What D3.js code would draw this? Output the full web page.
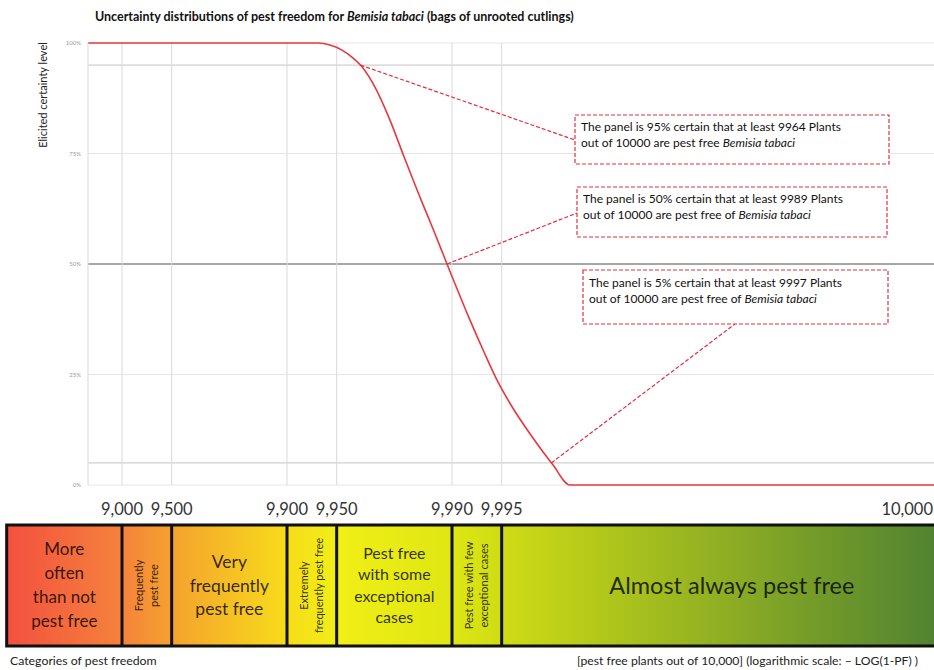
<!DOCTYPE html>
<html><head><meta charset="utf-8">
<script src="https://cdn.jsdelivr.net/npm/d3@7"></script>
<style>
body{margin:0;background:#fff}
svg{display:block}
text{font-family:Lato,"Open Sans",sans-serif}
</style>
</head><body>
<svg id="c" width="934" height="670"></svg>
<script>
// ---------------- data ----------------
const curvePlants    = [8400, 9890, 9935.1, 9945.1, 9953.6, 9959.6, 9964.9, 9970.7, 9976.2, 9980.5, 9984.6, 9987.05, 9989.28, 9992.22, 9993.6, 9994.59, 9995.61, 9996.73, 9997.56, 9998.07, 10000];
const curveCertainty = [100,  100,  100,    99.55,  98.4,   96.8,   94.6,   90.0,   82.6,   74.2,   64.5,   57.7,    50,      37.3,    30.1,   24.2,    18.1,    10.9,    4.5,     0,       0];
const yTicks = [0, 25, 50, 75, 100];
const yTickLabels = ["0%", "25%", "50%", "75%", "100%"];
const refLevels = [5, 50, 95];
const xTickPlants = [9000, 9500, 9900, 9950, 9990, 9995, 10000];
const xTickLabels = ["9,000", "9,500", "9,900", "9,950", "9,990", "9,995", "10,000"];
const categoryBounds = [5000, 9000, 9500, 9900, 9950, 9990, 9995, 10000];
const categoryLabels = [
  ["More", "often", "than not", "pest free"],
  ["Frequently", "pest free"],
  ["Very", "frequently", "pest free"],
  ["Extremely", "frequently pest free"],
  ["Pest free", "with some", "exceptional", "cases"],
  ["Pest free with few", "exceptional cases"],
  ["Almost always pest free"]
];
const annotationLevels = [95, 50, 5];
const annotationLine1 = [
  "The panel is 95% certain that at least 9964 Plants",
  "The panel is 50% certain that at least 9989 Plants",
  "The panel is 5% certain that at least 9997 Plants"
];
const annotationLine2 = [
  "out of 10000 are pest free ",
  "out of 10000 are pest free of ",
  "out of 10000 are pest free of "
];
const speciesName = "Bemisia tabaci";
const titleText = "Uncertainty distributions of pest freedom for ";
const titleTail = " (bags of unrooted cutlings)";
const yTitle = "Elicited certainty level";
const bottomLeft = "Categories of pest freedom";
const bottomRight = "[pest free plants out of 10,000] (logarithmic scale: \u2013 LOG(1-PF) )";

// ---------------- layout / style ----------------
const plotLeft = 88, plotRight = 934, plotTop = 43, plotBottom = 485;
const barTop = 525, barBottom = 646, barRight = 962;
const catStyle = [
  {size:17, lh:24, rot:false},
  {size:11, lh:15.5, rot:true},
  {size:17.5, lh:23.5, rot:false},
  {size:11, lh:15.5, rot:true},
  {size:16, lh:21.5, rot:false},
  {size:11, lh:15.5, rot:true},
  {size:23.5, lh:24, rot:false}
];
const annBoxes = [
  {x:575, y:115, w:314, h:49, tx:581, ty:131, endX:575, endY:140},
  {x:577, y:187, w:310, h:50, tx:583, ty:203, endX:577, endY:213},
  {x:583, y:270, w:305, h:54, tx:589, ty:287, endX:735, endY:324}
];
const red = "#e8383f", annRed = "#e0303e";

const svg = d3.select("#c");
svg.append("rect").attr("width",934).attr("height",670).attr("fill","#fff");

const lp = n => -Math.log10(1 - n/10000);
const xs = d3.scaleLinear().domain([lp(9000), lp(9990)]).range([122, 452]);
const X = n => n >= 10000 ? plotRight : xs(lp(n));
const y = d3.scaleLinear().domain([0, 100]).range([plotBottom, plotTop]);

// gridlines
const g = svg.append("g");
g.selectAll(".hg").data(yTicks).join("line")
  .attr("x1", plotLeft).attr("x2", plotRight)
  .attr("y1", d => y(d)).attr("y2", d => y(d))
  .attr("stroke", d => d === 50 ? "#8a8a8a" : "#e6e6e6")
  .attr("stroke-width", d => d === 50 ? 1.4 : 1);
g.selectAll(".rl").data(refLevels.filter(d => d !== 50)).join("line")
  .attr("x1", plotLeft).attr("x2", plotRight)
  .attr("y1", d => y(d)).attr("y2", d => y(d))
  .attr("stroke", "#c4c4c4").attr("stroke-width", 1);
g.selectAll(".vg").data(xTickPlants.filter(d => d < 10000)).join("line")
  .attr("x1", d => X(d)).attr("x2", d => X(d))
  .attr("y1", plotTop).attr("y2", plotBottom)
  .attr("stroke", "#d9d9d9").attr("stroke-width", 1);
g.append("line").attr("x1", plotLeft).attr("x2", plotLeft)
  .attr("y1", plotTop).attr("y2", plotBottom).attr("stroke", "#d9d9d9");

// y tick labels
svg.selectAll(".yt").data(yTicks).join("text")
  .attr("x", plotLeft - 7).attr("y", d => y(d)).attr("dy", "0.35em")
  .attr("text-anchor", "end").attr("font-size", 6).attr("fill", "#9a9a9a")
  .text((d, i) => yTickLabels[i]);

// y title
svg.append("text").attr("transform", `translate(47,95) rotate(-90)`)
  .attr("text-anchor", "middle").attr("font-size", 11).attr("fill", "#222")
  .text(yTitle);

// title
const t = svg.append("text").attr("x", 95).attr("y", 21)
  .attr("font-size", 12.5).attr("font-weight", "bold").attr("fill", "#111");
t.append("tspan").text(titleText);
t.append("tspan").attr("font-style", "italic").text(speciesName);
t.append("tspan").text(titleTail);

// curve
const pts = curvePlants.map((p, i) => [X(p), y(curveCertainty[i])]);
const path = svg.append("path").datum(pts)
  .attr("d", d3.line().curve(d3.curveMonotoneX))
  .attr("fill", "none").attr("stroke", red).attr("stroke-width", 1.6);

function curveAt(level) {
  const node = path.node(), L = node.getTotalLength(), ty = y(level);
  let lo = 0, hi = L;
  for (let k = 0; k < 40; k++) {
    const mid = (lo + hi) / 2, p = node.getPointAtLength(mid);
    if (p.y < ty) lo = mid; else hi = mid;
  }
  return node.getPointAtLength((lo + hi) / 2);
}

// annotations
annotationLevels.forEach((lv, i) => {
  const b = annBoxes[i], p = curveAt(lv);
  svg.append("line").attr("x1", p.x).attr("y1", p.y).attr("x2", b.endX).attr("y2", b.endY)
    .attr("stroke", annRed).attr("stroke-width", 1.2).attr("stroke-dasharray", "4,2");
  svg.append("rect").attr("x", b.x).attr("y", b.y).attr("width", b.w).attr("height", b.h)
    .attr("fill", "#fff").attr("stroke", annRed).attr("stroke-width", 1.2).attr("stroke-dasharray", "4,2");
  svg.append("text").attr("x", b.tx).attr("y", b.ty).attr("font-size", 12).attr("fill", "#111")
    .text(annotationLine1[i]);
  const t2 = svg.append("text").attr("x", b.tx).attr("y", b.ty + 16).attr("font-size", 12).attr("fill", "#111");
  t2.append("tspan").text(annotationLine2[i]);
  t2.append("tspan").attr("font-style", "italic").text(speciesName);
});

// x tick labels
svg.selectAll(".xt").data(xTickPlants).join("text")
  .attr("x", d => X(d)).attr("y", 515)
  .attr("text-anchor", d => d >= 10000 ? "end" : "middle")
  .attr("dx", d => d >= 10000 ? -1 : 0)
  .attr("font-size", 16.5).attr("fill", "#333")
  .text((d, i) => xTickLabels[i]);

// category bar gradient
const defs = svg.append("defs");
const x0 = X(categoryBounds[0]), x1 = barRight;
const grad = defs.append("linearGradient").attr("id", "cg")
  .attr("gradientUnits", "userSpaceOnUse")
  .attr("x1", x0).attr("x2", x1).attr("y1", 0).attr("y2", 0);
const stopColors = ["#f3503f", "#f5823c", "#f5a22e", "#f7dc1a", "#f1ef16", "#dfe613", "#cfdc14", "#497d33"];
const stopPos = categoryBounds.map(b => b >= 10000 ? barRight : X(b));
stopPos.forEach((px, i) => {
  grad.append("stop").attr("offset", (px - x0) / (x1 - x0)).attr("stop-color", stopColors[i]);
});

svg.append("rect").attr("x", x0).attr("y", barTop).attr("width", x1 - x0).attr("height", barBottom - barTop)
  .attr("fill", "url(#cg)");

// category dividers
svg.selectAll(".cd").data(categoryBounds.slice(1, -1)).join("line")
  .attr("x1", d => X(d)).attr("x2", d => X(d)).attr("y1", barTop).attr("y2", barBottom)
  .attr("stroke", "#111").attr("stroke-width", 3);
svg.append("rect").attr("x", x0).attr("y", barTop).attr("width", x1 - x0).attr("height", barBottom - barTop)
  .attr("fill", "none").attr("stroke", "#111").attr("stroke-width", 3);

// category labels
const cy = (barTop + barBottom) / 2;
categoryLabels.forEach((lines, i) => {
  const st = catStyle[i];
  const cx = (stopPos[i] + stopPos[i + 1]) / 2;
  const n = lines.length;
  const tx = svg.append("text").attr("font-size", st.size).attr("fill", "#000").attr("fill-opacity", 0.8)
    .attr("text-anchor", "middle");
  if (st.rot) tx.attr("transform", `translate(${cx},${cy}) rotate(-90)`);
  else tx.attr("transform", `translate(${cx},${cy})`);
  lines.forEach((l, k) => {
    tx.append("tspan").attr("x", 0).attr("y", (k - (n - 1) / 2) * st.lh).attr("dy", "0.35em").text(l);
  });
});

// bottom labels
svg.append("text").attr("x", 10).attr("y", 665).attr("font-size", 12.3).attr("fill", "#222").text(bottomLeft);
svg.append("text").attr("x", 577).attr("y", 665).attr("font-size", 12.2).attr("fill", "#222").text(bottomRight);
</script>
</body></html>
